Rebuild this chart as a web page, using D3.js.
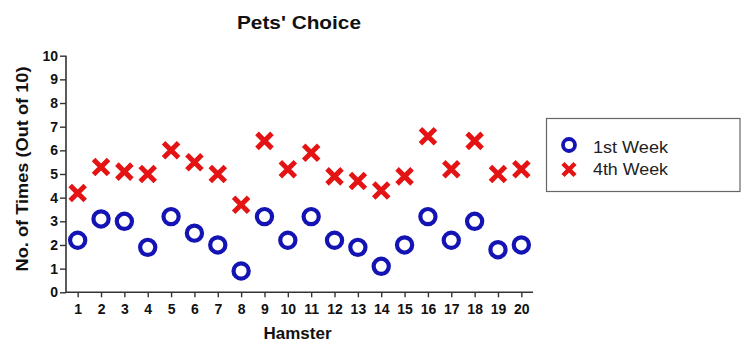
<!DOCTYPE html>
<html><head><meta charset="utf-8">
<script src="https://cdn.jsdelivr.net/npm/d3@7"></script>
<style>body{margin:0;background:#fff}svg{display:block;font-family:"Liberation Sans",Arial,sans-serif}</style>
</head><body><svg id="c" width="741" height="344"></svg>
<script>
const hamsters = d3.range(1, 21);
const week1 = [2.2,3.1,3.0,1.9,3.2,2.5,2.0,0.9,3.2,2.2,3.2,2.2,1.9,1.1,2.0,3.2,2.2,3.0,1.8,2.0];
const week4 = [4.2,5.3,5.1,5.0,6.0,5.5,5.0,3.7,6.4,5.2,5.9,4.9,4.7,4.3,4.9,6.6,5.2,6.4,5.0,5.2];
const yTicks = d3.range(0, 11);
const seriesNames = ["1st Week", "4th Week"];

const svg = d3.select("#c");
const x = d3.scaleLinear().domain([0.5, 20.5]).range([66, 533]);
const y = d3.scaleLinear().domain([0, 10]).range([292.3, 55.7]);
const blue = "#1414b4", red = "#e41414", axisCol = "#333";

// axes
const gx = svg.append("g").attr("transform", "translate(0,292.3)")
  .call(d3.axisBottom(x).tickValues(hamsters).tickSize(5).tickPadding(7).tickFormat(d3.format("d")));
const gy = svg.append("g").attr("transform", "translate(66,0)")
  .call(d3.axisLeft(y).tickValues(yTicks).tickSize(6).tickPadding(2));
[gx, gy].forEach(g => {
  g.select(".domain").attr("stroke", axisCol).attr("stroke-width", 1.6);
  g.selectAll(".tick line").attr("stroke", axisCol).attr("stroke-width", 1.4);
  g.selectAll("text").attr("font-size", 14).attr("font-weight", "bold").attr("fill", "#111")
    .attr("font-family", "'Liberation Sans',Arial,sans-serif");
});
gx.select(".domain").attr("d", "M66,0H533");
gy.select(".domain").attr("d", "M0,292.3V55.7");

// title and labels
svg.append("text").attr("x", 299).attr("y", 28.5).attr("text-anchor", "middle")
  .attr("font-size", 18).attr("font-weight", "bold").attr("fill", "#111")
  .attr("textLength", 124).attr("lengthAdjust", "spacingAndGlyphs").text("Pets' Choice");
svg.append("text").attr("x", 297.5).attr("y", 339).attr("text-anchor", "middle")
  .attr("font-size", 17).attr("font-weight", "bold").attr("fill", "#111")
  .attr("textLength", 68).attr("lengthAdjust", "spacingAndGlyphs").text("Hamster");
svg.append("text").attr("transform", "translate(27.5,169) rotate(-90)").attr("text-anchor", "middle")
  .attr("font-size", 17).attr("font-weight", "bold").attr("fill", "#111")
  .attr("textLength", 205).attr("lengthAdjust", "spacingAndGlyphs").text("No. of Times (Out of 10)");

// marks
function cross(g, cx, cy, s, w) {
  g.append("path").attr("d", `M${cx-s},${cy-s}L${cx+s},${cy+s}M${cx-s},${cy+s}L${cx+s},${cy-s}`)
    .attr("stroke", red).attr("stroke-width", w).attr("stroke-linecap", "butt").attr("fill", "none");
}
const m4 = svg.append("g");
week4.forEach((v, i) => cross(m4, x(hamsters[i]), y(v), 7.5, 5));
svg.append("g").selectAll("circle").data(week1).join("circle")
  .attr("cx", (d, i) => x(hamsters[i])).attr("cy", d => y(d)).attr("r", 7.6)
  .attr("fill", "none").attr("stroke", blue).attr("stroke-width", 4.2);

// legend
const lg = svg.append("g");
lg.append("rect").attr("x", 546.5).attr("y", 118.5).attr("width", 193.5).attr("height", 73)
  .attr("fill", "#fff").attr("stroke", "#666").attr("stroke-width", 1.2);
lg.append("circle").attr("cx", 569).attr("cy", 145).attr("r", 6).attr("fill", "none")
  .attr("stroke", blue).attr("stroke-width", 3.8);
cross(lg, 569, 169.5, 6, 4.5);
lg.selectAll("text.l").data(seriesNames).join("text").attr("class", "l")
  .attr("x", 593).attr("y", (d, i) => 153 + i * 22).attr("font-size", 17).attr("fill", "#222")
  .attr("textLength", 75).attr("lengthAdjust", "spacingAndGlyphs")
  .attr("font-family", "'Liberation Sans',Arial,sans-serif").text(d => d);
</script></body></html>
